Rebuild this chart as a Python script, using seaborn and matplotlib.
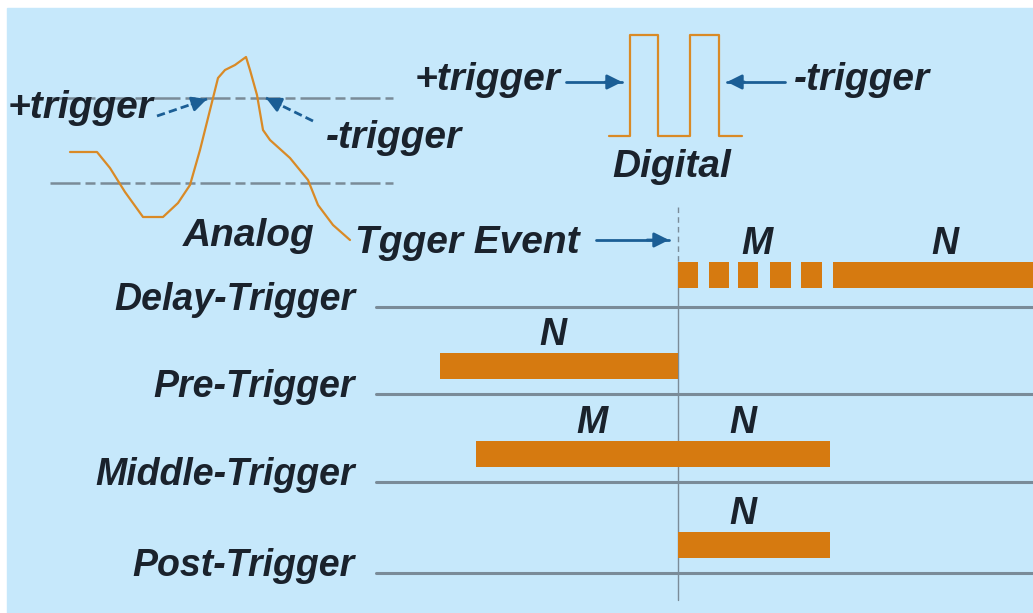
import matplotlib
matplotlib.use("Agg")
import matplotlib.pyplot as plt
from matplotlib.patches import Rectangle
import seaborn as sns

# timeline rows and the buffer segments on each (pixel units along time, trigger at 678)
rows = ["Delay-Trigger", "Pre-Trigger", "Middle-Trigger", "Post-Trigger"]
trigger_x = 678
delay_m_blocks = [(678, 698), (709, 729), (738, 758), (770, 791), (801, 822)]
delay_n = (833, 1040)
pre_n = (440, 678)
middle_m = (476, 678)
middle_n = (678, 830)
post_n = (678, 830)

# analog waveform
analog_x = [70, 97, 110, 125, 143, 163, 178, 190, 200, 210, 218, 225, 235, 246,
            250, 257, 263, 270, 290, 308, 318, 333, 350]
analog_y = [152, 152, 168, 192, 217, 217, 203, 185, 150, 110, 78, 70, 65, 57,
            70, 95, 130, 140, 158, 180, 205, 225, 240]

# digital pulse train
digital_x = [609, 630, 630, 658, 658, 690, 690, 719, 719, 742]
digital_y = [136, 136, 35, 35, 136, 136, 35, 35, 136, 136]

sns.set_style("white")
plt.rcParams["font.family"] = ["Liberation Sans", "DejaVu Sans"]

BG = "#c6e8fb"
ORANGE = "#d67a10"
WAVE = "#d98a26"
GREY = "#7a8b98"
BLUE = "#1b5e95"
TXT = "#1a222c"

fig = plt.figure(figsize=(10.33, 6.13), dpi=100)
ax = fig.add_axes([0, 0, 1, 1])
ax.add_patch(Rectangle((7, 8), 1040, 620, color=BG, zorder=0))


def txt(x, y, s, ha="left", size=28):
    ax.text(x, y, s, ha=ha, va="baseline", fontsize=size, fontweight="bold",
            fontstyle="italic", color=TXT, zorder=5)


def arrow(head, tail, ls="-"):
    # shaft drawn separately so a dashed shaft keeps a solid head
    ax.plot([tail[0], head[0]], [tail[1], head[1]], color=BLUE, lw=2, ls=ls, zorder=4)
    dx, dy = head[0] - tail[0], head[1] - tail[1]
    ax.annotate("", xy=head, xytext=(head[0] - dx * 0.3, head[1] - dy * 0.3),
                arrowprops=dict(arrowstyle="-|>", color=BLUE, lw=2,
                                mutation_scale=22, shrinkA=0, shrinkB=0), zorder=4)


# --- analog section
for yy in (98, 183):
    ax.plot([50, 393], [yy, yy], color=GREY, lw=1.8, ls=(0, (12, 2, 4, 2)), zorder=1)
sns.lineplot(x=analog_x, y=analog_y, sort=False, estimator=None, color=WAVE,
             lw=1.6, ax=ax, zorder=3)
arrow((207, 99), (157, 116), ls=(0, (3, 1.5)))
arrow((266, 98), (313, 121), ls=(0, (3, 1.5)))
txt(8, 118, "+trigger")
txt(326, 148, "-trigger")
txt(183, 246, "Analog")

# --- digital section
sns.lineplot(x=digital_x, y=digital_y, sort=False, estimator=None, color=WAVE,
             lw=1.6, ax=ax, zorder=3)
arrow((622, 82), (566, 82))
arrow((727, 82), (785, 82))
txt(415, 90, "+trigger")
txt(794, 90, "-trigger")
txt(612, 177, "Digital")

# --- trigger event
txt(355, 253, "Tgger Event")
arrow((669, 240), (596, 240))
ax.plot([trigger_x, trigger_x], [207, 262], color=GREY, lw=1, ls=(0, (4, 3)), zorder=2)
ax.plot([trigger_x, trigger_x], [262, 600], color=GREY, lw=1, zorder=2)

# --- timeline rows
row_lines = [307, 394, 482, 573]
bar_h = 26
row_bars = [
    [("M", delay_m_blocks), ("N", [delay_n])],
    [("N", [pre_n])],
    [("M", [middle_m]), ("N", [middle_n])],
    [("N", [post_n])],
]
label_x = [[757, 945], [553], [592, 743], [743]]

for i, (name, line_y) in enumerate(zip(rows, row_lines)):
    ax.plot([376, 1040], [line_y, line_y], color=GREY, lw=2.2, zorder=1)
    txt(355, line_y + 3, name, ha="right", size=27)
    top = line_y - (45 if i == 0 else 41)
    for j, (lab, segs) in enumerate(row_bars[i]):
        ax.broken_barh([(a, b - a) for a, b in segs], (top, bar_h),
                       facecolors=ORANGE, edgecolors="none", linewidth=0, zorder=3)
        txt(label_x[i][j], top - 8, lab, ha="center", size=27)

ax.set_xlim(0, 1033)
ax.set_ylim(613, 0)
ax.axis("off")
fig.savefig("out.png", dpi=100)
